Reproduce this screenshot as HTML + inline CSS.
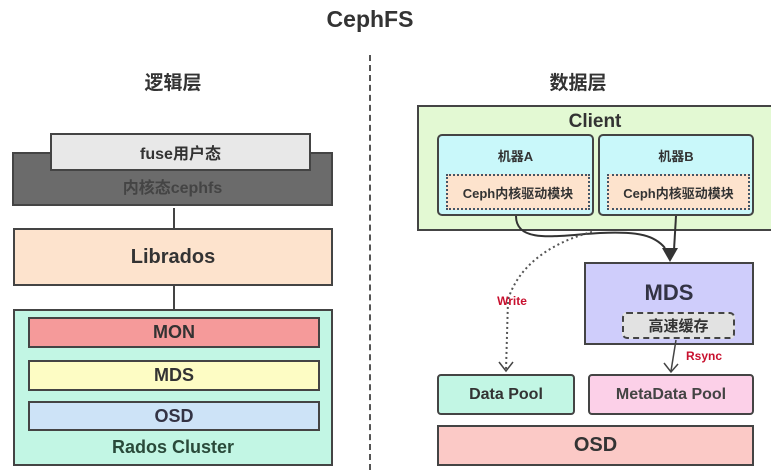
<!DOCTYPE html>
<html><head><meta charset="utf-8"><style>
body{margin:0;width:771px;height:476px;background:#fff;position:relative;overflow:hidden;font-family:"Liberation Sans","Noto Sans CJK SC",sans-serif;font-weight:bold;color:#333}
.b{position:absolute;box-sizing:border-box;border:2px solid #444;display:flex;align-items:center;justify-content:center}
.t{position:absolute;transform:translateX(-50%);white-space:nowrap}
</style></head><body>
<div class="t" style="left:370px;top:6px;font-size:23px">CephFS</div>
<div class="t" style="left:173px;top:68px;font-size:19px">逻辑层</div>
<div class="t" style="left:578px;top:68px;font-size:19px">数据层</div>
<div style="position:absolute;left:369px;top:55px;height:415px;border-left:2px dashed #555"></div>

<div class="b" style="left:12px;top:152px;width:321px;height:54px;background:#6b6b6b;color:#444;align-items:flex-end;padding-bottom:6px;font-size:16px">内核态cephfs</div>
<div class="b" style="left:50px;top:133px;width:261px;height:38px;background:#e8e8e8;font-size:16px">fuse用户态</div>
<div style="position:absolute;left:173px;top:208px;height:20px;border-left:2px solid #444"></div>
<div class="b" style="left:13px;top:228px;width:320px;height:58px;background:#fde3cd;font-size:20px">Librados</div>
<div style="position:absolute;left:173px;top:286px;height:24px;border-left:2px solid #444"></div>
<div class="b" style="left:13px;top:309px;width:320px;height:157px;background:#c2f6e4;align-items:flex-end;padding-bottom:6px;font-size:18px;color:#2a4a3a">Rados Cluster</div>
<div class="b" style="left:28px;top:317px;width:292px;height:31px;background:#f59a9a;font-size:18px">MON</div>
<div class="b" style="left:28px;top:360px;width:292px;height:31px;background:#fdfcc4;font-size:18px">MDS</div>
<div class="b" style="left:28px;top:401px;width:292px;height:30px;background:#cde3f7;font-size:18px;color:#334">OSD</div>

<div class="b" style="left:417px;top:105px;width:356px;height:126px;background:#e3f9d3;align-items:flex-start;font-size:19px;padding-top:4px">Client</div>
<div class="b" style="left:437px;top:134px;width:157px;height:82px;background:#c9f8fa;border-radius:5px;align-items:flex-start;padding-top:10px;font-size:13px">机器A</div>
<div class="b" style="left:598px;top:134px;width:156px;height:82px;background:#c9f8fa;border-radius:5px;align-items:flex-start;padding-top:10px;font-size:13px">机器B</div>
<div class="b" style="left:446px;top:174px;width:144px;height:36px;background:#fde3cd;border:2px dotted #456;font-size:13px">Ceph内核驱动模块</div>
<div class="b" style="left:607px;top:174px;width:143px;height:36px;background:#fde3cd;border:2px dotted #456;font-size:13px">Ceph内核驱动模块</div>

<div class="b" style="left:584px;top:262px;width:170px;height:83px;background:#cfcdfb;align-items:flex-start;padding-top:16px;font-size:22px;color:#334">MDS</div>
<div class="b" style="left:622px;top:312px;width:113px;height:27px;background:#e2e2e2;border:2px dashed #444;border-radius:5px;font-size:15px">高速缓存</div>
<div class="b" style="left:437px;top:374px;width:138px;height:41px;background:#c2f6e4;border-radius:4px;font-size:16px">Data Pool</div>
<div class="b" style="left:588px;top:374px;width:166px;height:41px;background:#fcd0e8;border-radius:4px;font-size:16px;color:#444">MetaData Pool</div>
<div class="b" style="left:437px;top:425px;width:317px;height:41px;background:#fbc9c6;font-size:20px">OSD</div>

<svg width="771" height="476" style="position:absolute;left:0;top:0">
<path d="M516 216 C516 245 560 235 600 233 C640 231 655 236 665 248" fill="none" stroke="#333" stroke-width="2"/>
<path d="M676 216 L674 250" fill="none" stroke="#333" stroke-width="2"/>
<path d="M662 248 L678 248 L670 262 Z" fill="#333"/>
<path d="M592 232 C560 240 520 260 508 300 L506 370" fill="none" stroke="#555" stroke-width="2" stroke-dasharray="2,3"/>
<path d="M499 362 L506 371 L513 362" fill="none" stroke="#444" stroke-width="1.5"/>
<path d="M676 340 L671 371" stroke="#444" stroke-width="1.5"/>
<path d="M664 363 L671 372 L678 364" fill="none" stroke="#444" stroke-width="1.5"/>
<text x="512" y="305" font-size="12" fill="#c8102e" text-anchor="middle" font-weight="bold" font-family="Liberation Sans">Write</text>
<text x="704" y="360" font-size="12" fill="#c8102e" text-anchor="middle" font-weight="bold" font-family="Liberation Sans">Rsync</text>
</svg>
</body></html>
